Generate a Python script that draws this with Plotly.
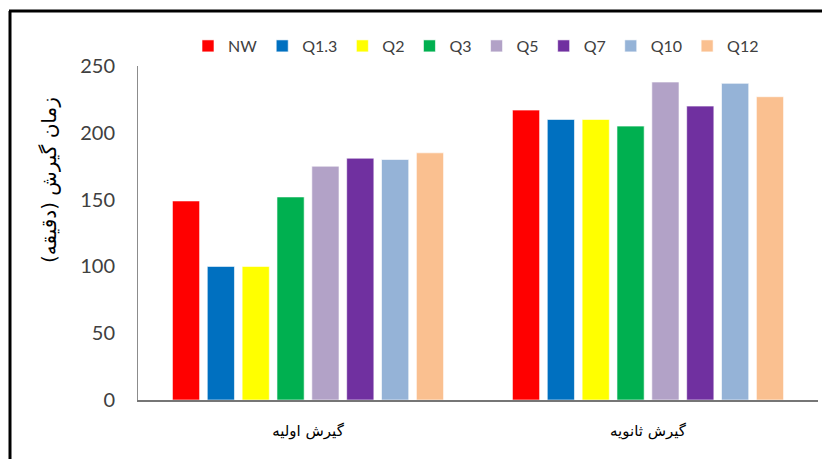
import plotly.graph_objects as go

categories = ["گیرش اولیه", "گیرش ثانویه"]
series_names = ["NW", "Q1.3", "Q2", "Q3", "Q5", "Q7", "Q10", "Q12"]
nw = [149, 217]
q1_3 = [100, 210]
q2 = [100, 210]
q3 = [152, 205]
q5 = [175, 238]
q7 = [181, 220]
q10 = [180, 237]
q12 = [185, 227]
y_ticks = [0, 50, 100, 150, 200, 250]
y_title = "زمان گیرش (دقیقه)"

values = [nw, q1_3, q2, q3, q5, q7, q10, q12]
colors = ["#FF0000", "#0070C0", "#FFFF00", "#00B050", "#B2A2C7", "#7030A0", "#95B3D7", "#FAC090"]

fig = go.Figure()
for name, vals, col in zip(series_names, values, colors):
    fig.add_trace(go.Bar(x=categories, y=vals, name=name,
                         marker=dict(color=col, line=dict(color="rgba(255,255,255,0.6)", width=1))))

# page body has an 8px margin; work in reference pixel coords and shift
OFF = 8
W, H = 830 - OFF, 459 - OFF
L, R, T, B = 138 - OFF, 12, 66 - OFF, 59
pw, ph = W - L - R, H - T - B

def px_x(p):
    return (p - OFF - L) / pw

def px_y(p):
    return (H - B - (p - OFF)) / ph

fig.update_layout(
    width=W, height=H,
    margin=dict(l=L, r=R, t=T, b=B, autoexpand=False),
    paper_bgcolor="white", plot_bgcolor="white",
    barmode="group", bargap=0.18, bargroupgap=0.22,
    font=dict(family="Lato, Carlito, sans-serif", color="#404040"),
    legend=dict(orientation="h", x=px_x(476), xanchor="center", y=px_y(46), yanchor="middle",
                font=dict(size=16, color="#404040"), itemwidth=30, traceorder="normal"),
    xaxis=dict(showline=True, linecolor="#767676", linewidth=2, ticks="",
               tickfont=dict(family="DejaVu Sans", size=15, color="#000000"),
               ticklabelstandoff=16, showgrid=False),
    yaxis=dict(range=[0, 250], tickvals=y_ticks, showline=True, linecolor="#8c8c8c", linewidth=1,
               ticks="", showgrid=False, zeroline=False,
               tickfont=dict(size=20, color="#404040"), ticklabelstandoff=18),
    annotations=[
        dict(text=y_title, textangle=-90, xref="paper", yref="paper",
             x=px_x(49), y=px_y(180), xanchor="center", yanchor="middle", showarrow=False,
             font=dict(family="DejaVu Sans", size=20, color="#000000")),
    ],
    shapes=[
        dict(type="line", xref="paper", yref="paper", x0=px_x(10), x1=px_x(10),
             y0=px_y(470), y1=px_y(11), line=dict(color="black", width=3)),
        dict(type="line", xref="paper", yref="paper", x0=px_x(9), x1=px_x(840),
             y0=px_y(11), y1=px_y(11), line=dict(color="black", width=3)),
    ],
)

fig.write_html("out.html")
